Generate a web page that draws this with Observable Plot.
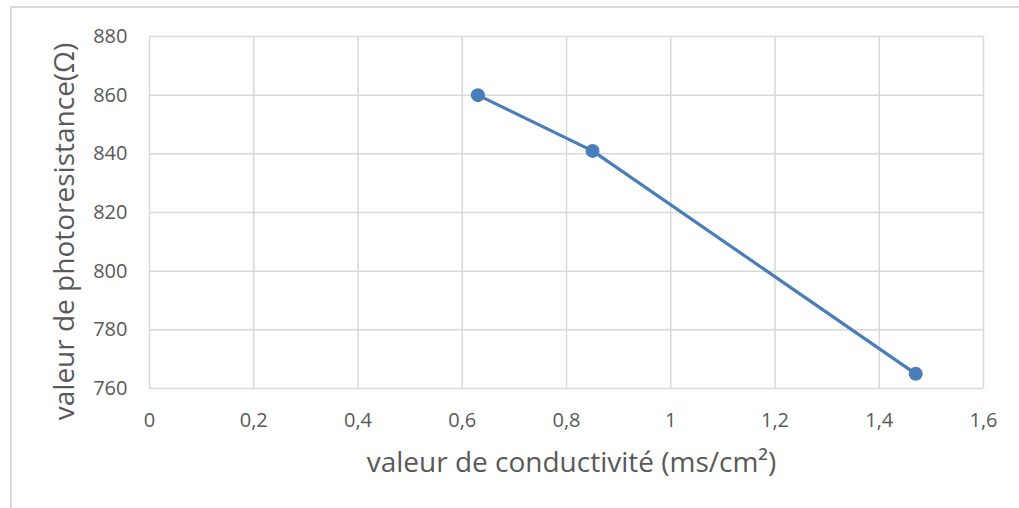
<!DOCTYPE html>
<html>
<head>
<meta charset="utf-8">
<script src="https://cdn.jsdelivr.net/npm/d3@7"></script>
<script src="https://cdn.jsdelivr.net/npm/@observablehq/plot@0.6"></script>
<style>
  html, body { margin: 0; padding: 0; background: #fff; overflow: hidden; }
  #wrap { position: relative; width: 1019px; height: 508px; }
  #frame { position: absolute; left: 10px; top: 6px; width: 1100px; height: 600px;
           border-left: 2px solid #d9d9d9; border-top: 2px solid #d9d9d9; box-sizing: border-box; }
  #chart { position: absolute; left: 0; top: 0; }
</style>
</head>
<body>
<div id="wrap"><div id="frame"></div><div id="chart"></div></div>
<script>
const conductivite = [0.63, 0.85, 1.47];
const resistance = [860, 841, 765];
const xTicks = [0, 0.2, 0.4, 0.6, 0.8, 1, 1.2, 1.4, 1.6];
const yTicks = [760, 780, 800, 820, 840, 860, 880];
const xTitle = "valeur de conductivité (ms/cm²)";
const yTitle = "valeur de photoresistance(Ω)";

const data = conductivite.map((c, i) => ({x: c, y: resistance[i]}));
const blue = "#4a7ebb";
const grey = "#d9d9d9";
const textColor = "#595959";

const chart = Plot.plot({
  width: 1019,
  height: 508,
  marginLeft: 149,
  marginRight: 36,
  marginTop: 36,
  marginBottom: 120,
  style: {fontFamily: "'Open Sans', sans-serif", fontSize: "20px", color: textColor, background: "transparent"},
  x: {domain: [0, 1.6]},
  y: {domain: [760, 880]},
  marks: [
    Plot.gridX(xTicks, {stroke: grey, strokeOpacity: 1, strokeWidth: 1.5}),
    Plot.gridY(yTicks, {stroke: grey, strokeOpacity: 1, strokeWidth: 1.5}),
    Plot.axisX(xTicks, {tickSize: 0, tickPadding: 24, label: null,
      tickFormat: d => String(d).replace(".", ","), fill: textColor, fontSize: 20}),
    Plot.axisY(yTicks, {tickSize: 0, tickPadding: 22, label: null, fill: textColor, fontSize: 20}),
    Plot.line(data, {x: "x", y: "y", stroke: blue, strokeWidth: 3.2}),
    Plot.dot(data, {x: "x", y: "y", fill: blue, r: 7}),
    Plot.text([xTitle], {frameAnchor: "bottom", dy: 75, dx: 5, text: d => d,
      textAnchor: "middle", lineAnchor: "middle", fontSize: 28, fill: textColor}),
    Plot.text([yTitle], {frameAnchor: "left", dx: -84, dy: 19, rotate: -90, text: d => d,
      textAnchor: "middle", lineAnchor: "middle", fontSize: 28, fill: textColor})
  ]
});
document.getElementById("chart").appendChild(chart);
</script>
</body>
</html>
